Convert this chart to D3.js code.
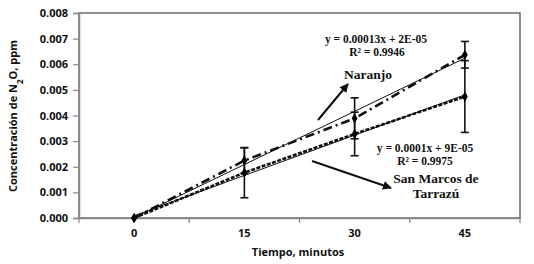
<!DOCTYPE html>
<html><head><meta charset="utf-8">
<script src="https://cdn.jsdelivr.net/npm/d3@7"></script>
<style>body{margin:0;background:#fff;}</style>
</head><body>
<svg id="c" width="534" height="264"></svg>
<script>
const categories = ["0","15","30","45"];
const minutes = [0,15,30,45];
const naranjo = [0, 0.00224, 0.00389, 0.00637];
const naranjoErr = [0, 0.0005, 0.0008, 0.00052];
const sanMarcos = [0, 0.00177, 0.00328, 0.00474];
const sanMarcosErr = [0, 0.00098, 0.00085, 0.0014];
const yTicks = [0,0.001,0.002,0.003,0.004,0.005,0.006,0.007,0.008];

const svg = d3.select("#c");
const L=79, R=520, T=13, B=218;
const x = d3.scaleBand().domain(categories).range([L,R]).paddingInner(0).paddingOuter(0);
const cx = c => x(c)+x.bandwidth()/2;
const xm = d3.scaleLinear().domain([0,45]).range([cx("0"), cx("45")]);
const y = d3.scaleLinear().domain([0,0.008]).range([B,T]);

const sans = "'Open Sans', 'Liberation Sans', sans-serif";
const serif = "'Liberation Serif', 'DejaVu Serif', serif";

// plot border
svg.append("rect").attr("x",L).attr("y",T).attr("width",R-L).attr("height",B-T)
  .attr("fill","none").attr("stroke","#444").attr("stroke-width",1.2);

// y axis
const ya = svg.append("g").attr("transform",`translate(${L},0)`)
  .call(d3.axisLeft(y).tickValues(yTicks).tickFormat(d3.format(".3f")).tickSize(6).tickPadding(5));
ya.select(".domain").attr("stroke","#888").attr("stroke-width",1.5);
ya.selectAll(".tick line").attr("stroke","#888").attr("stroke-width",1.2);
ya.selectAll("text").attr("font-family",sans).attr("font-weight","bold").attr("font-size",11).attr("fill","#111");

// x axis
const xa = svg.append("g").attr("transform",`translate(0,${B})`)
  .call(d3.axisBottom(x).tickSize(0).tickPadding(11));
xa.select(".domain").attr("stroke","#888").attr("stroke-width",1.5);
xa.selectAll("text").attr("font-family",sans).attr("font-weight","bold").attr("font-size",11).attr("fill","#111");
const bounds = categories.map(c=>x(c)).concat([R]);
svg.append("g").selectAll("line").data(bounds).join("line")
  .attr("x1",d=>d).attr("x2",d=>d).attr("y1",B).attr("y2",B+5)
  .attr("stroke","#888").attr("stroke-width",1.2);

// trendlines (least squares on minutes)
function fit(xs, ys){
  const n=xs.length, mx=d3.mean(xs), my=d3.mean(ys);
  let sxy=0,sxx=0; for(let i=0;i<n;i++){sxy+=(xs[i]-mx)*(ys[i]-my);sxx+=(xs[i]-mx)**2;}
  const b=sxy/sxx; return {b, a:my-b*mx};
}
[naranjo, sanMarcos].forEach(s=>{
  const f = fit(minutes, s);
  svg.append("line").attr("x1",xm(0)).attr("y1",y(f.a)).attr("x2",xm(45)).attr("y2",y(f.a+f.b*45))
    .attr("stroke","#111").attr("stroke-width",1);
});

const line = d3.line().x((d,i)=>cx(categories[i])).y(d=>y(d));
svg.append("path").datum(naranjo).attr("d",line).attr("fill","none").attr("stroke","#111")
  .attr("stroke-width",2.6).attr("stroke-dasharray","9,4,2,4");
svg.append("path").datum(sanMarcos).attr("d",line).attr("fill","none").attr("stroke","#111")
  .attr("stroke-width",2.6).attr("stroke-dasharray","4,1.5");

// error bars
function errBars(vals, errs){
  const g = svg.append("g").attr("stroke","#111").attr("stroke-width",1.6);
  vals.forEach((v,i)=>{
    if(!errs[i]) return;
    const px = cx(categories[i]);
    g.append("line").attr("x1",px).attr("x2",px).attr("y1",y(v+errs[i])).attr("y2",y(v-errs[i]));
    [v+errs[i], v-errs[i]].forEach(e=>g.append("line").attr("x1",px-4).attr("x2",px+4).attr("y1",y(e)).attr("y2",y(e)));
  });
}
errBars(naranjo, naranjoErr);
errBars(sanMarcos, sanMarcosErr);

// markers
[naranjo, sanMarcos].forEach(s=>{
  svg.append("g").selectAll("path").data(s).join("path")
    .attr("transform",(d,i)=>`translate(${cx(categories[i])},${y(d)})`)
    .attr("d",d3.symbol().type(d3.symbolDiamond).size(30)).attr("fill","#000");
});

// annotations
function txt(t,xp,yp,size){
  return svg.append("text").attr("x",xp).attr("y",yp).attr("text-anchor","middle")
    .attr("font-family",serif).attr("font-weight","bold").attr("font-size",size).attr("fill","#111").text(t);
}
txt("y = 0.00013x + 2E-05",376,43,11.5);
txt("R² = 0.9946",377,56,11.5);
txt("Naranjo",368,79,13.5);
txt("y = 0.0001x + 9E-05",425,152,11.5);
txt("R² = 0.9975",425,165,11.5);
txt("San Marcos de",436,183,13.5);
txt("Tarrazú",436,198,13.5);

svg.append("defs").append("marker").attr("id","ah").attr("viewBox","0 0 10 10")
  .attr("refX",9).attr("refY",5).attr("markerWidth",4.5).attr("markerHeight",4.5).attr("orient","auto")
  .append("path").attr("d","M0,0L10,5L0,10z").attr("fill","#111");
svg.append("line").attr("x1",318).attr("y1",120).attr("x2",348).attr("y2",84)
  .attr("stroke","#111").attr("stroke-width",2).attr("marker-end","url(#ah)");
svg.append("line").attr("x1",312).attr("y1",161).attr("x2",391).attr("y2",188)
  .attr("stroke","#111").attr("stroke-width",2).attr("marker-end","url(#ah)");

// axis titles
const yt = svg.append("text").attr("transform","translate(17,116) rotate(-90)").attr("text-anchor","middle")
  .attr("font-family",sans).attr("font-weight","bold").attr("font-size",11).attr("fill","#111");
yt.append("tspan").text("Concentración de N");
yt.append("tspan").attr("baseline-shift","sub").attr("font-size",8).text("2");
yt.append("tspan").text("O, ppm");
svg.append("text").attr("x",298).attr("y",256).attr("text-anchor","middle")
  .attr("font-family",sans).attr("font-weight","bold").attr("font-size",11).attr("fill","#111")
  .text("Tiempo, minutos");
</script>
</body></html>
